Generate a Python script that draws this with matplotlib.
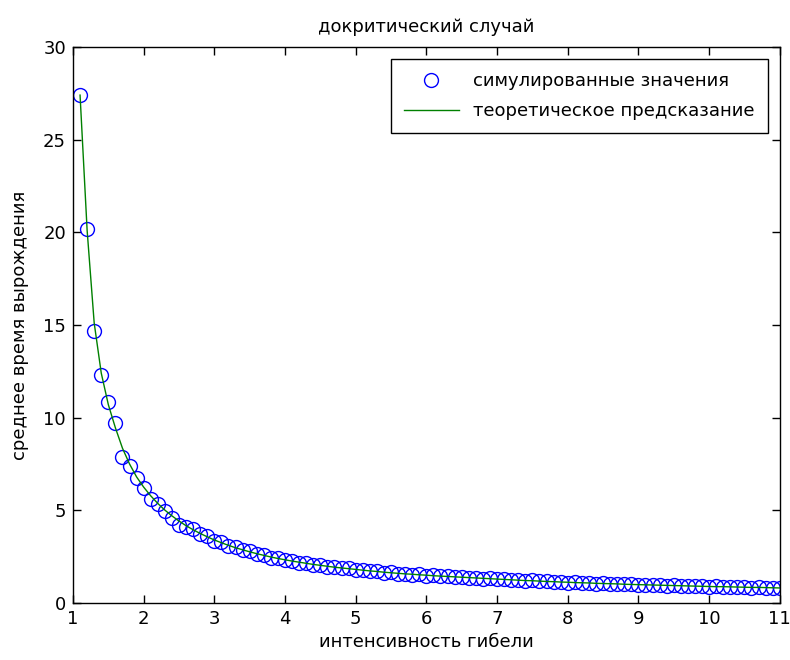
import matplotlib
matplotlib.use("Agg")
import matplotlib.pyplot as plt

# intensity of death (x grid of the experiment)
intensity = [1.1, 1.2, 1.3, 1.4, 1.5, 1.6, 1.7, 1.8, 1.9, 2.0,
             2.1, 2.2, 2.3, 2.4, 2.5, 2.6, 2.7, 2.8, 2.9, 3.0,
             3.1, 3.2, 3.3, 3.4, 3.5, 3.6, 3.7, 3.8, 3.9, 4.0,
             4.1, 4.2, 4.3, 4.4, 4.5, 4.6, 4.7, 4.8, 4.9, 5.0,
             5.1, 5.2, 5.3, 5.4, 5.5, 5.6, 5.7, 5.8, 5.9, 6.0,
             6.1, 6.2, 6.3, 6.4, 6.5, 6.6, 6.7, 6.8, 6.9, 7.0,
             7.1, 7.2, 7.3, 7.4, 7.5, 7.6, 7.7, 7.8, 7.9, 8.0,
             8.1, 8.2, 8.3, 8.4, 8.5, 8.6, 8.7, 8.8, 8.9, 9.0,
             9.1, 9.2, 9.3, 9.4, 9.5, 9.6, 9.7, 9.8, 9.9, 10.0,
             10.1, 10.2, 10.3, 10.4, 10.5, 10.6, 10.7, 10.8, 10.9, 11.0]

# simulated mean extinction time
simulated = [27.4, 20.2, 14.7, 12.3, 10.85, 9.7, 7.85, 7.4, 6.75, 6.2,
             5.6, 5.35, 4.95, 4.6, 4.2, 4.1, 4.0, 3.7, 3.6, 3.35,
             3.3, 3.05, 3.0, 2.85, 2.8, 2.65, 2.6, 2.45, 2.42, 2.3,
             2.28, 2.18, 2.15, 2.05, 2.05, 1.96, 1.95, 1.87, 1.87, 1.79,
             1.78, 1.71, 1.72, 1.64, 1.65, 1.58, 1.59, 1.53, 1.54, 1.48,
             1.49, 1.43, 1.45, 1.39, 1.41, 1.36, 1.36, 1.31, 1.33, 1.27,
             1.29, 1.24, 1.24, 1.2, 1.22, 1.17, 1.18, 1.13, 1.15, 1.1,
             1.12, 1.08, 1.09, 1.05, 1.07, 1.02, 1.05, 1.0, 1.02, 0.98,
             0.99, 0.96, 0.98, 0.93, 0.95, 0.92, 0.93, 0.9, 0.91, 0.88,
             0.89, 0.86, 0.88, 0.85, 0.86, 0.83, 0.85, 0.82, 0.83, 0.8]

# theoretical prediction
theory = [27.4, 20.1, 15.1, 12.4, 10.7, 9.45, 8.35, 7.5, 6.8, 6.25,
          5.78, 5.37, 5.01, 4.7, 4.42, 4.17, 3.95, 3.75, 3.57, 3.4,
          3.25, 3.11, 2.98, 2.87, 2.76, 2.66, 2.57, 2.48, 2.4, 2.33,
          2.26, 2.2, 2.14, 2.08, 2.03, 1.98, 1.93, 1.89, 1.85, 1.81,
          1.77, 1.73, 1.7, 1.66, 1.63, 1.6, 1.57, 1.55, 1.52, 1.5,
          1.47, 1.45, 1.43, 1.41, 1.39, 1.37, 1.35, 1.33, 1.31, 1.29,
          1.27, 1.25, 1.23, 1.21, 1.2, 1.18, 1.16, 1.15, 1.13, 1.12,
          1.1, 1.09, 1.08, 1.06, 1.05, 1.04, 1.03, 1.01, 1.0, 0.99,
          0.98, 0.97, 0.96, 0.95, 0.94, 0.93, 0.92, 0.91, 0.9, 0.89,
          0.88, 0.88, 0.87, 0.86, 0.85, 0.84, 0.84, 0.83, 0.82, 0.81]

x_ticks = [1, 2, 3, 4, 5, 6, 7, 8, 9, 10, 11]
y_ticks = [0, 5, 10, 15, 20, 25, 30]

plt.rcParams['font.family'] = ['DejaVu Sans']
fs = 13

fig = plt.figure(figsize=(7.9, 6.6), dpi=100)
ax = fig.add_axes([0.0924, 0.0864, 0.8946, 0.8425])

ax.plot(intensity, simulated, linestyle='none', marker='o', markersize=10,
        markerfacecolor='none', markeredgecolor=(0, 0, 1), markeredgewidth=1.0,
        label='симулированные значения')
ax.plot(intensity, theory, color=(0, 0.5, 0), linewidth=1.0,
        label='теоретическое предсказание')

ax.set_xlim(1, 11)
ax.set_ylim(0, 30)
ax.set_xticks(x_ticks)
ax.set_yticks(y_ticks)
ax.tick_params(direction='in', length=6, width=1, top=True, right=True,
               labelsize=fs, pad=5)
for s in ax.spines.values():
    s.set_linewidth(1.0)

ax.set_title('докритический случай', fontsize=fs, pad=11)
ax.set_xlabel('интенсивность гибели', fontsize=fs, labelpad=4)
ax.set_ylabel('среднее время вырождения', fontsize=fs, labelpad=10)

# legend box in the reference is taller, rows ~28px apart
leg = ax.legend(loc='upper right', fancybox=False, edgecolor='black', framealpha=1,
                handlelength=3.0, borderaxespad=0.65, fontsize=fs, borderpad=0.75,
                labelspacing=0.65)
leg.get_frame().set_linewidth(1.0)

plt.savefig('out.png', dpi=100)
